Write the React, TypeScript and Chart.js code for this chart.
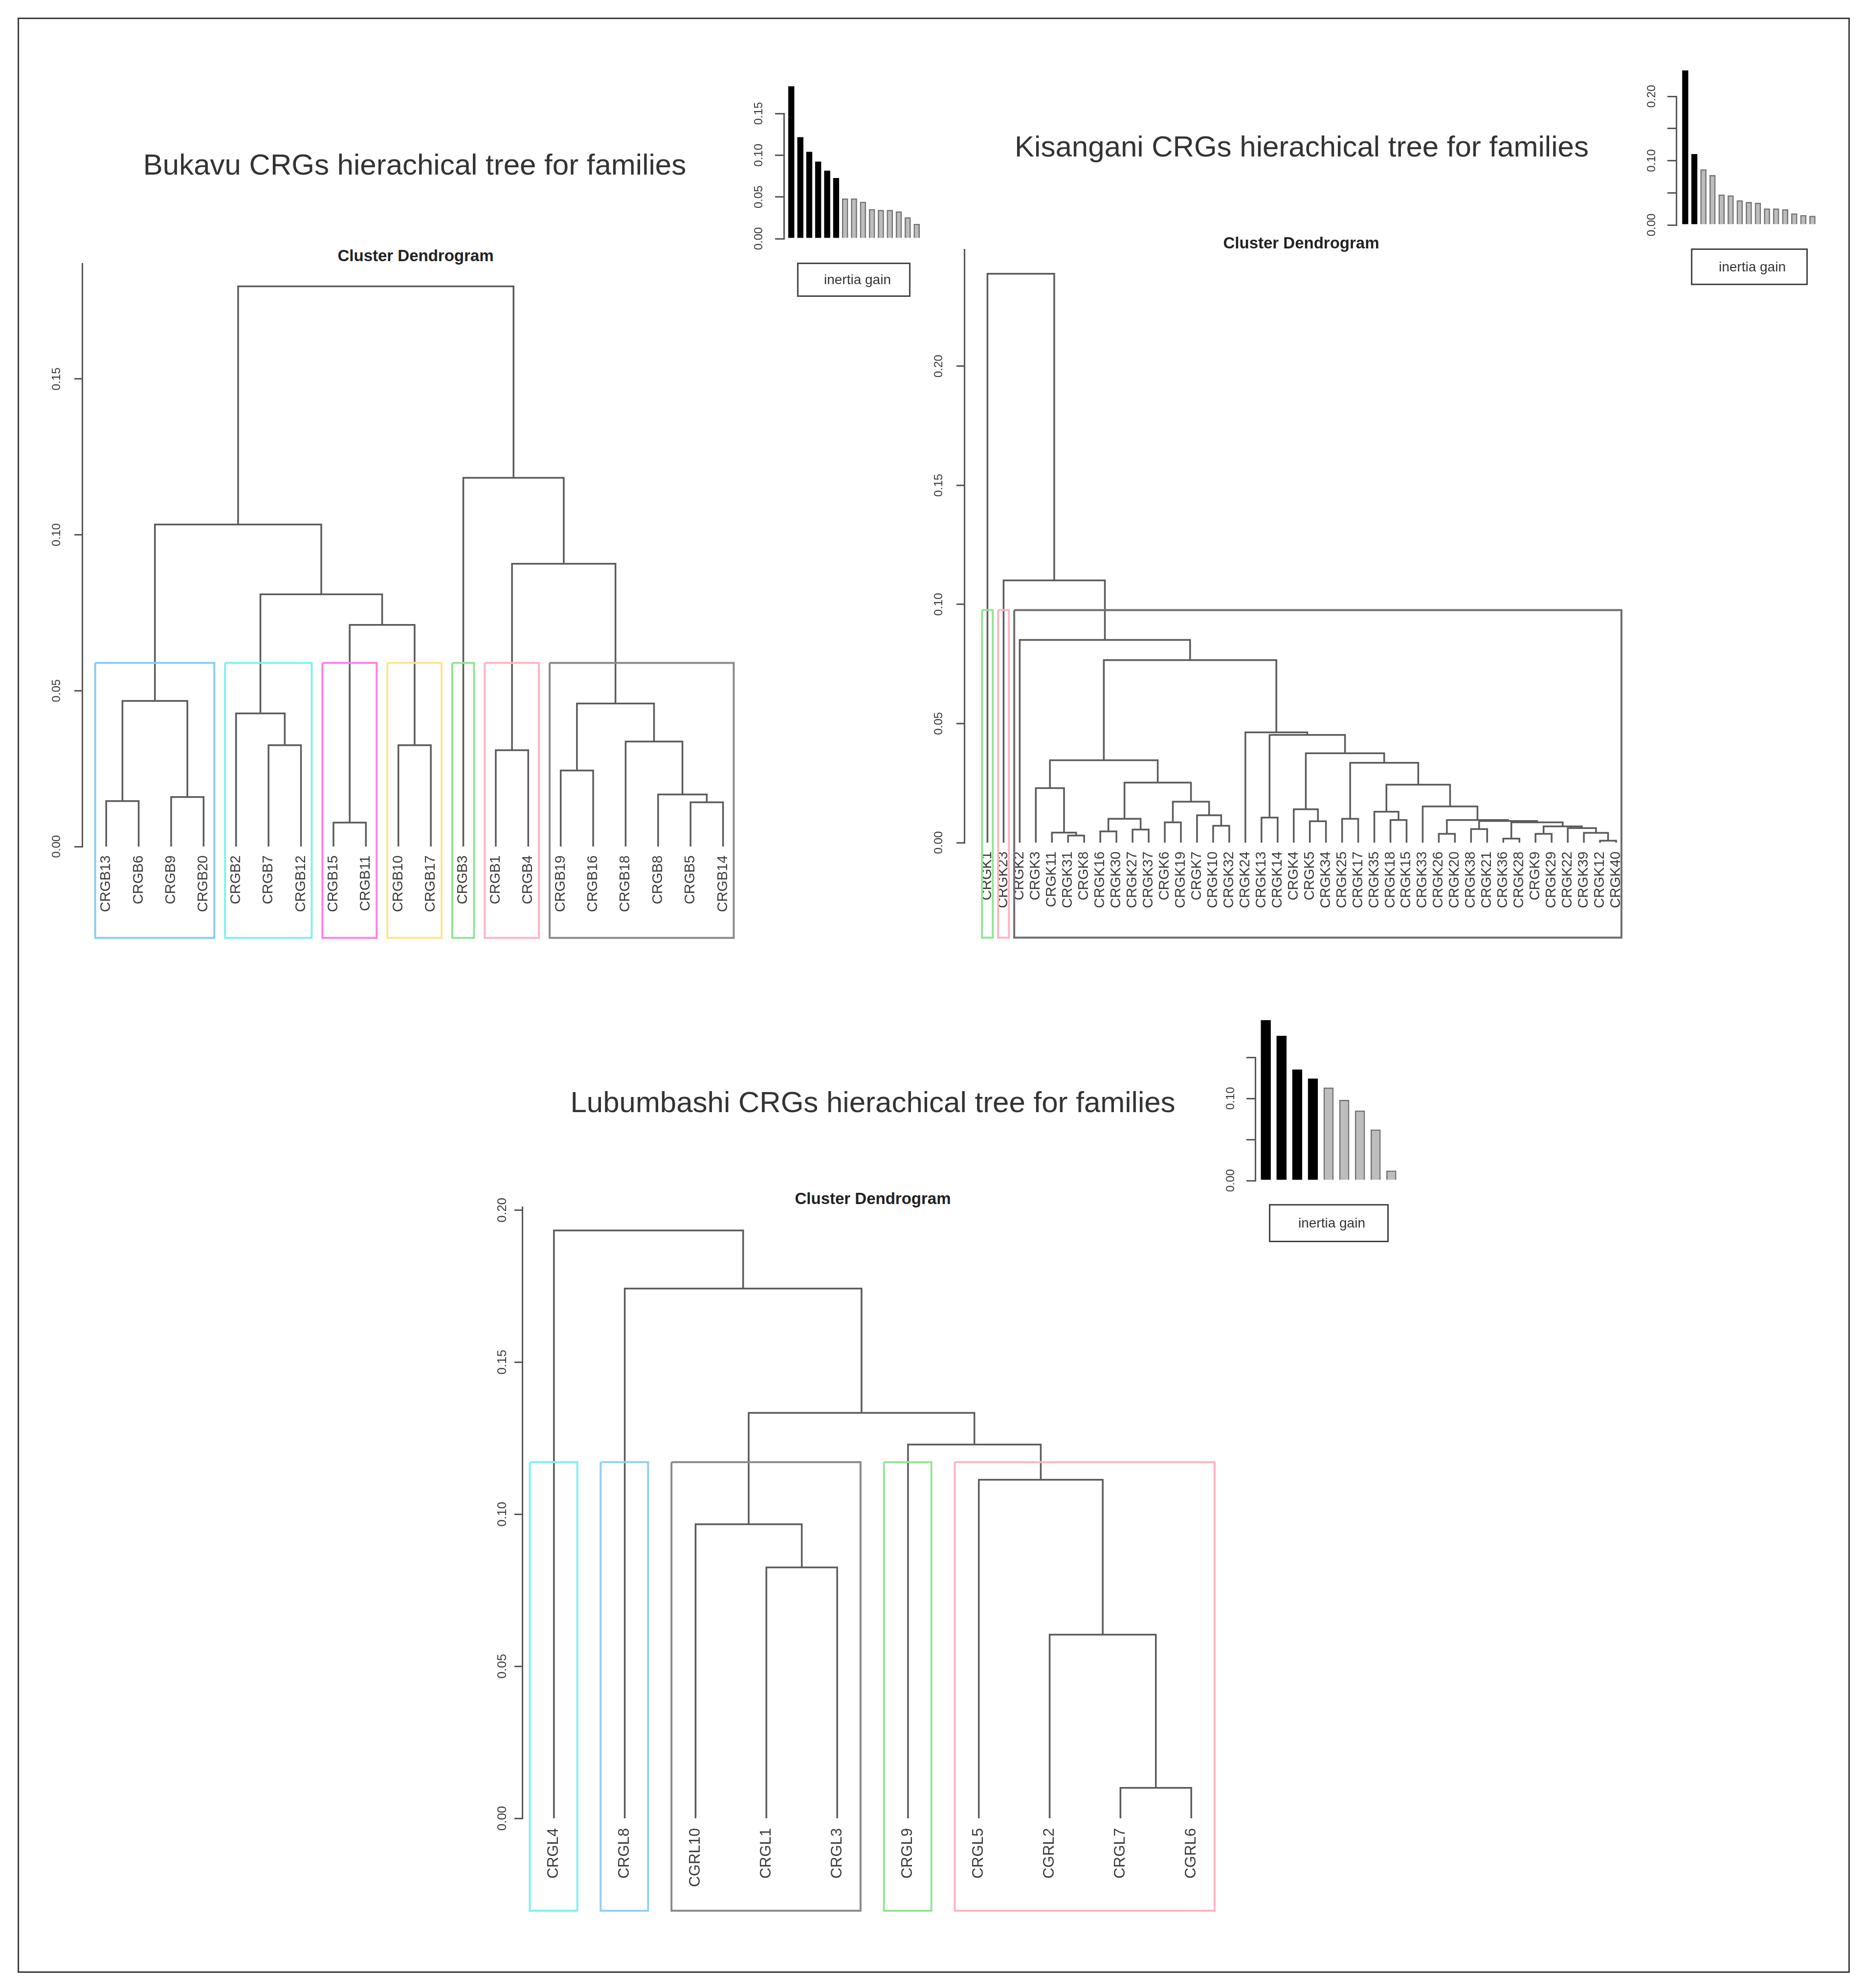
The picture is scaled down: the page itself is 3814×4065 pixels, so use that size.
import React, { useEffect, useRef } from 'react';
import { Chart, registerables } from 'chart.js';

Chart.register(...registerables);

const FONT = '"Liberation Sans", Arial, Helvetica, sans-serif';
const AXIS = '#555555';
const TEXT = '#3a3a3a';
const BRANCH = '#5a5a5a';
const GRAY_FILL = '#bdbdbd';
const GRAY_EDGE = '#707070';

// ================= DATA =================
// ---- Bukavu ----
const bukavuLeaves = ['CRGB13', 'CRGB6', 'CRGB9', 'CRGB20', 'CRGB2', 'CRGB7', 'CRGB12', 'CRGB15', 'CRGB11', 'CRGB10', 'CRGB17', 'CRGB3', 'CRGB1', 'CRGB4', 'CRGB19', 'CRGB16', 'CRGB18', 'CRGB8', 'CRGB5', 'CRGB14'];
// merge pairs: negative = leaf position (1-based), positive = earlier merge (1-based)
const bukavuMerges = [[-8, -9], [-19, -20], [-1, -2], [-3, -4], [-18, 2], [-15, -16], [-13, -14], [-6, -7], [-10, -11], [-17, 5], [-5, 8], [6, 10], [3, 4], [1, 9], [11, 14], [7, 12], [13, 15], [-12, 16], [17, 18]];
const bukavuHeights = [0.0077, 0.0142, 0.0146, 0.0159, 0.0167, 0.0244, 0.0309, 0.0325, 0.0325, 0.0337, 0.0427, 0.0459, 0.0467, 0.0711, 0.0809, 0.0907, 0.1033, 0.1183, 0.1797];
const bukavuClusterSizes = [4, 3, 2, 2, 1, 2, 6];
const bukavuClusterColors = ['#86cdf7', '#7ff0f0', '#ff80e6', '#ffe48c', '#93e493', '#ffb3c1', '#8a8a8a'];
const bukavuAxisTicks = [0, 0.05, 0.1, 0.15];
const bukavuAxisLabels = ['0.00', '0.05', '0.10', '0.15'];
const bukavuInertiaGain = [0.1824, 0.1216, 0.1039, 0.0922, 0.0814, 0.0725, 0.048, 0.048, 0.0441, 0.0353, 0.0343, 0.0343, 0.0324, 0.0255, 0.0176];
const bukavuGainTicks = [0, 0.05, 0.1, 0.15];
const bukavuGainLabels = ['0.00', '0.05', '0.10', '0.15'];

// ---- Kisangani ----
const kisanganiLeaves = ['CRGK1', 'CRGK23', 'CRGK2', 'CRGK3', 'CRGK11', 'CRGK31', 'CRGK8', 'CRGK16', 'CRGK30', 'CRGK27', 'CRGK37', 'CRGK6', 'CRGK19', 'CRGK7', 'CRGK10', 'CRGK32', 'CRGK24', 'CRGK13', 'CRGK14', 'CRGK4', 'CRGK5', 'CRGK34', 'CRGK25', 'CRGK17', 'CRGK35', 'CRGK18', 'CRGK15', 'CRGK33', 'CRGK26', 'CRGK20', 'CRGK38', 'CRGK21', 'CRGK36', 'CRGK28', 'CRGK9', 'CRGK29', 'CRGK22', 'CRGK39', 'CRGK12', 'CRGK40'];
const kisanganiMerges = [[-6, -7], [-5, 1], [-4, 2], [-8, -9], [-10, -11], [4, 5], [-12, -13], [-15, -16], [-14, 8], [7, 9], [6, 10], [3, 11], [-18, -19], [-21, -22], [-20, 14], [-23, -24], [-26, -27], [-25, 17], [-29, -30], [-31, -32], [-33, -34], [-35, -36], [-39, -40], [-38, 23], [-37, 24], [22, 25], [21, 26], [20, 27], [19, 28], [-28, 29], [18, 30], [16, 31], [15, 32], [13, 33], [-17, 34], [12, 35], [-3, 36], [-2, 37], [-1, 38]];
const kisanganiHeights = [0.003, 0.0042, 0.0229, 0.0047, 0.0055, 0.01, 0.0085, 0.0071, 0.0115, 0.0172, 0.0252, 0.0346, 0.0105, 0.009, 0.014, 0.01, 0.0095, 0.013, 0.0037, 0.0057, 0.0017, 0.0037, 0.0008, 0.0041, 0.0061, 0.0068, 0.0085, 0.0091, 0.0095, 0.0152, 0.0243, 0.0335, 0.0375, 0.0452, 0.0463, 0.0766, 0.0851, 0.1101, 0.2388];
const kisanganiClusterSizes = [1, 1, 38];
const kisanganiClusterColors = ['#93e493', '#ffb3c1', '#6e6e6e'];
const kisanganiAxisTicks = [0, 0.05, 0.1, 0.15, 0.2];
const kisanganiAxisLabels = ['0.00', '0.05', '0.10', '0.15', '0.20'];
const kisanganiInertiaGain = [0.24, 0.11, 0.0863, 0.0774, 0.047, 0.0457, 0.0381, 0.0355, 0.0343, 0.0254, 0.0254, 0.0241, 0.0178, 0.0152, 0.014];
const kisanganiGainTicks = [0, 0.05, 0.1, 0.15, 0.2];
const kisanganiGainLabels = ['0.00', '', '0.10', '', '0.20'];

// ---- Lubumbashi ----
const lubumbashiLeaves = ['CRGL4', 'CRGL8', 'CGRL10', 'CRGL1', 'CRGL3', 'CRGL9', 'CRGL5', 'CGRL2', 'CRGL7', 'CGRL6'];
const lubumbashiMerges = [[-9, -10], [-8, 1], [-4, -5], [-3, 3], [-7, 2], [-6, 5], [4, 6], [-2, 7], [-1, 8]];
const lubumbashiHeights = [0.01, 0.0604, 0.0825, 0.0967, 0.1113, 0.1229, 0.1333, 0.1742, 0.1933];
const lubumbashiClusterSizes = [1, 1, 3, 1, 4];
const lubumbashiClusterColors = ['#7ff0f0', '#90cff7', '#8a8a8a', '#93e493', '#ffb3c1'];
const lubumbashiAxisTicks = [0, 0.05, 0.1, 0.15, 0.2];
const lubumbashiAxisLabels = ['0.00', '0.05', '0.10', '0.15', '0.20'];
const lubumbashiInertiaGain = [0.195, 0.176, 0.135, 0.124, 0.113, 0.098, 0.085, 0.062, 0.012];
const lubumbashiGainTicks = [0, 0.05, 0.1, 0.15];
const lubumbashiGainLabels = ['0.00', '', '0.10', ''];

// ================= LAYOUT =================
type Area = { l: number; t: number; r: number; b: number };
type Box = { left: number; top: number; width: number; height: number };

const PAD = 100;
const YAXIS_W = 100;
const XAXIS_H = 230;

const LAYOUT = {
  bukavu: {
    dendro: { area: { l: 168.4, t: 538.9, r: 1545.6, b: 1730.8 }, xMin: 0.259, xMax: 21, yMax: 0.187, rectBottom: -0.0293, leafFont: 29, tickFont: 24, tickLen: 16, tickGap: 52, labelGap: 18 },
    gain: { area: { l: 1603, t: 232, r: 1892.7, b: 488 }, xMin: 0.163, xMax: 16, yMax: 0.15, barW: 12, tickFont: 24, tickLen: 18, tickGap: 51 },
    legend: { left: 1630, top: 537, width: 232, height: 70, textLeft: 52 },
    title: { cx: 848, cy: 337 },
    sub: { cx: 850, cy: 523 },
  },
  kisangani: {
    dendro: { area: { l: 1971.8, t: 510.1, r: 3337.6, b: 1723.0 }, xMin: -0.438, xMax: 41, yMax: 0.249, rectBottom: -0.0399, leafFont: 29, tickFont: 24, tickLen: 16, tickGap: 52, labelGap: 18 },
    gain: { area: { l: 3428.3, t: 196.8, r: 3725.3, b: 460 }, xMin: 0.009, xMax: 16, yMax: 0.2, barW: 12, tickFont: 24, tickLen: 18, tickGap: 50 },
    legend: { left: 3458, top: 508, width: 239, height: 75, textLeft: 54 },
    title: { cx: 2662, cy: 300 },
    sub: { cx: 2661, cy: 497 },
  },
  lubumbashi: {
    dendro: { area: { l: 1067.5, t: 2468.3, r: 2580.7, b: 3718.1 }, xMin: 0.5526, xMax: 11, yMax: 0.201, rectBottom: -0.0304, leafFont: 31, tickFont: 26, tickLen: 16, tickGap: 40, labelGap: 20 },
    gain: { area: { l: 2566.7, t: 2161.75, r: 2870.7, b: 2413.3 }, xMin: 0.327, xMax: 9.8, yMax: 0.15, barW: 20, tickFont: 24, tickLen: 18, tickGap: 50 },
    legend: { left: 2595, top: 2462, width: 245, height: 78, textLeft: 57 },
    title: { cx: 1785, cy: 2254 },
    sub: { cx: 1785, cy: 2451 },
  },
};

function canvasBox(a: Area, xAxisH: number): Box {
  return {
    left: a.l - YAXIS_W - PAD,
    top: a.t - PAD,
    width: Math.round(a.r - a.l + YAXIS_W + 2 * PAD),
    height: Math.round(a.b - a.t + xAxisH + 2 * PAD),
  };
}

function measure(text: string, size: number) {
  const ctx = document.createElement('canvas').getContext('2d') as CanvasRenderingContext2D;
  ctx.font = `${size}px ${FONT}`;
  return ctx.measureText(text).width;
}

function yAxis(max: number, ticks: number[], labels: string[], fontSize: number, tickLen: number, gap: number) {
  const w = measure('0.00', fontSize);
  return {
    type: 'linear',
    position: 'left',
    min: 0,
    max,
    afterBuildTicks: (s: any) => { s.ticks = ticks.map((v) => ({ value: v })); },
    afterFit: (s: any) => { s.width = YAXIS_W; },
    grid: { display: true, drawOnChartArea: false, drawTicks: true, tickLength: tickLen, color: AXIS, lineWidth: 3 },
    border: { display: true, color: AXIS, width: 3 },
    ticks: {
      autoSkip: false,
      minRotation: 90,
      maxRotation: 90,
      padding: gap - tickLen,
      labelOffset: -w / 2,
      color: TEXT,
      font: { family: FONT, size: fontSize },
      callback: (_v: any, i: number) => labels[i] ?? '',
    },
  };
}

const COMMON = {
  responsive: false,
  maintainAspectRatio: false,
  animation: false as const,
  devicePixelRatio: 1,
  events: [] as any[],
  layout: { padding: PAD },
  plugins: { legend: { display: false }, tooltip: { enabled: false }, title: { display: false } },
  elements: { point: { radius: 0 }, line: { tension: 0 } },
};

function buildDendrogram(
  canvas: HTMLCanvasElement,
  leaves: string[],
  merges: number[][],
  heights: number[],
  sizes: number[],
  colors: string[],
  axisTicks: number[],
  axisLabels: string[],
  L: any,
) {
  const xs: number[] = [];
  const ref = (r: number) => (r < 0 ? { x: -r, y: 0 } : { x: xs[r - 1], y: heights[r - 1] });
  const branches = merges.map(([a, b], i) => {
    const A = ref(a);
    const B = ref(b);
    const h = heights[i];
    xs[i] = (A.x + B.x) / 2;
    return [{ x: A.x, y: A.y }, { x: A.x, y: h }, { x: B.x, y: h }, { x: B.x, y: B.y }];
  });
  const sorted = [...heights].sort((p, q) => q - p);
  const k = sizes.length;
  const cut = (sorted[k - 2] + sorted[k - 1]) / 2;
  let start = 0;
  const rects = sizes.map((n) => {
    const x0 = start + 0.66;
    const x1 = start + n + 0.33;
    start += n;
    return [{ x: x0, y: cut }, { x: x1, y: cut }, { x: x1, y: L.rectBottom }, { x: x0, y: L.rectBottom }, { x: x0, y: cut }];
  });

  const datasets: any[] = [
    ...branches.map((d) => ({ data: d, borderColor: BRANCH, borderWidth: 3.5, pointRadius: 0, fill: false, order: 2, clip: false, borderJoinStyle: 'miter' })),
    ...rects.map((d, i) => ({ data: d, borderColor: colors[i], borderWidth: 4, pointRadius: 0, fill: false, order: 1, clip: false, borderJoinStyle: 'miter' })),
  ];

  return new Chart(canvas, {
    type: 'line',
    data: { datasets },
    options: {
      ...COMMON,
      scales: {
        x: {
          type: 'linear',
          min: L.xMin,
          max: L.xMax,
          offset: false,
          afterBuildTicks: (s: any) => { s.ticks = leaves.map((_, i) => ({ value: i + 1 })); },
          afterFit: (s: any) => { s.height = XAXIS_H; },
          grid: { display: false, drawTicks: false },
          border: { display: false },
          ticks: {
            autoSkip: false,
            minRotation: 90,
            maxRotation: 90,
            padding: L.labelGap,
            color: TEXT,
            font: { family: FONT, size: L.leafFont },
            callback: (_v: any, i: number) => leaves[i] ?? '',
          },
        },
        y: yAxis(L.yMax, axisTicks, axisLabels, L.tickFont, L.tickLen, L.tickGap),
      },
    } as any,
  });
}

function buildGain(canvas: HTMLCanvasElement, values: number[], nBlack: number, ticks: number[], labels: string[], L: any) {
  return new Chart(canvas, {
    type: 'bar',
    data: {
      datasets: [
        {
          data: values.map((v, i) => ({ x: i + 1, y: v })),
          backgroundColor: values.map((_, i) => (i < nBlack ? '#000000' : GRAY_FILL)),
          borderColor: values.map((_, i) => (i < nBlack ? '#000000' : GRAY_EDGE)),
          borderWidth: 2.5,
          barThickness: L.barW,
          clip: false,
        } as any,
      ],
    },
    options: {
      ...COMMON,
      scales: {
        x: { type: 'linear', min: L.xMin, max: L.xMax, offset: false, display: false },
        y: yAxis(L.yMax, ticks, labels, L.tickFont, L.tickLen, L.tickGap),
      },
    } as any,
  });
}

function ChartCanvas({ box, make }: { box: Box; make: (c: HTMLCanvasElement) => Chart }) {
  const ref = useRef<HTMLCanvasElement>(null);
  useEffect(() => {
    const chart = make(ref.current as HTMLCanvasElement);
    return () => chart.destroy();
  }, []);
  return (
    <canvas
      ref={ref}
      width={box.width}
      height={box.height}
      style={{ position: 'absolute', left: box.left, top: box.top, width: box.width, height: box.height }}
    />
  );
}

function Title({ text, cx, cy, size, bold }: { text: string; cx: number; cy: number; size: number; bold?: boolean }) {
  return (
    <div
      style={{
        position: 'absolute',
        left: cx - 1000,
        width: 2000,
        top: cy - size * 0.6,
        height: size * 1.2,
        lineHeight: `${size * 1.2}px`,
        textAlign: 'center',
        fontFamily: FONT,
        fontSize: size,
        fontWeight: bold ? 700 : 400,
        color: bold ? '#222' : '#333',
        whiteSpace: 'nowrap',
      }}
    >
      {text}
    </div>
  );
}

function LegendBox({ b }: { b: { left: number; top: number; width: number; height: number; textLeft: number } }) {
  return (
    <div
      style={{
        position: 'absolute',
        left: b.left,
        top: b.top,
        width: b.width,
        height: b.height,
        border: '3px solid #444',
        boxSizing: 'border-box',
        fontFamily: FONT,
        fontSize: 28,
        color: '#333',
      }}
    >
      <span style={{ position: 'absolute', left: b.textLeft, top: 0, lineHeight: `${b.height - 6}px` }}>inertia gain</span>
    </div>
  );
}

type Site = {
  name: string;
  L: any;
  leaves: string[];
  merges: number[][];
  heights: number[];
  sizes: number[];
  colors: string[];
  axisTicks: number[];
  axisLabels: string[];
  gain: number[];
  gainTicks: number[];
  gainLabels: string[];
};

const SITES: Site[] = [
  { name: 'Bukavu', L: LAYOUT.bukavu, leaves: bukavuLeaves, merges: bukavuMerges, heights: bukavuHeights, sizes: bukavuClusterSizes, colors: bukavuClusterColors, axisTicks: bukavuAxisTicks, axisLabels: bukavuAxisLabels, gain: bukavuInertiaGain, gainTicks: bukavuGainTicks, gainLabels: bukavuGainLabels },
  { name: 'Kisangani', L: LAYOUT.kisangani, leaves: kisanganiLeaves, merges: kisanganiMerges, heights: kisanganiHeights, sizes: kisanganiClusterSizes, colors: kisanganiClusterColors, axisTicks: kisanganiAxisTicks, axisLabels: kisanganiAxisLabels, gain: kisanganiInertiaGain, gainTicks: kisanganiGainTicks, gainLabels: kisanganiGainLabels },
  { name: 'Lubumbashi', L: LAYOUT.lubumbashi, leaves: lubumbashiLeaves, merges: lubumbashiMerges, heights: lubumbashiHeights, sizes: lubumbashiClusterSizes, colors: lubumbashiClusterColors, axisTicks: lubumbashiAxisTicks, axisLabels: lubumbashiAxisLabels, gain: lubumbashiInertiaGain, gainTicks: lubumbashiGainTicks, gainLabels: lubumbashiGainLabels },
];

export default function App() {
  return (
    <div style={{ position: 'absolute', left: 0, top: 0, width: 3814, height: 4065, overflow: 'hidden', background: '#ffffff' }}>
      <div style={{ position: 'absolute', left: 36, top: 36, width: 3747, height: 3998, border: '3px solid #3a3a3a', boxSizing: 'border-box' }} />
      {SITES.map((s) => (
        <React.Fragment key={s.name}>
          <Title text={`${s.name} CRGs hierachical tree for families`} cx={s.L.title.cx} cy={s.L.title.cy} size={60} />
          <Title text="Cluster Dendrogram" cx={s.L.sub.cx} cy={s.L.sub.cy} size={33} bold />
          <ChartCanvas
            box={canvasBox(s.L.dendro.area, XAXIS_H)}
            make={(c) => buildDendrogram(c, s.leaves, s.merges, s.heights, s.sizes, s.colors, s.axisTicks, s.axisLabels, s.L.dendro)}
          />
          <ChartCanvas
            box={canvasBox(s.L.gain.area, 0)}
            make={(c) => buildGain(c, s.gain, s.sizes.length - 1, s.gainTicks, s.gainLabels, s.L.gain)}
          />
          <LegendBox b={s.L.legend} />
        </React.Fragment>
      ))}
    </div>
  );
}
